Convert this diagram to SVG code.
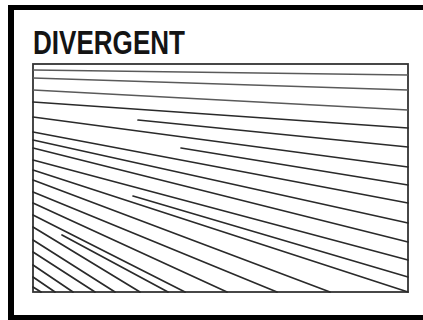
<svg xmlns="http://www.w3.org/2000/svg" width="423" height="320" viewBox="0 0 423 320">
  <style>
    .frame { fill: #000; }
    .title { font-family: "Liberation Sans", Arial, sans-serif; font-weight: bold; font-size: 33px; fill: #141414; }
    .box { fill: none; stroke: #333; stroke-width: 1.8; }
    .ln { stroke: #2a2a2a; stroke-width: 1.7; fill: none; stroke-linecap: round; }
    .lt { stroke: #5a5a5a; stroke-width: 1.5; fill: none; }
  </style>
  <rect width="423" height="320" fill="#fff"/>
  <g id="frame">
    <path class="frame" fill-rule="evenodd" d="M8 5 H430 V330 H8 Z M14 10 V315 H430 V10 Z"/>
  </g>
  <g id="title">
    <text class="title" x="33" y="54" textLength="152" lengthAdjust="spacingAndGlyphs">DIVERGENT</text>
  </g>
  <g id="panel">
    <rect class="box" x="33" y="64" width="375" height="228"/>
  </g>
  <g id="grain-lines">
    <line class="lt" x1="33" y1="70" x2="408" y2="75"/>
    <line class="lt" x1="33" y1="78" x2="408" y2="90"/>
    <line class="lt" x1="33" y1="90" x2="408" y2="110"/>
    <line class="ln" x1="33" y1="102" x2="408" y2="128"/>
    <line class="ln" x1="138" y1="120" x2="408" y2="147"/>
    <line class="ln" x1="33" y1="117" x2="408" y2="167"/>
    <line class="ln" x1="181" y1="148" x2="408" y2="185"/>
    <line class="ln" x1="33" y1="132" x2="408" y2="203"/>
    <line class="ln" x1="33" y1="140" x2="408" y2="223"/>
    <line class="ln" x1="33" y1="148" x2="408" y2="242"/>
    <line class="ln" x1="33" y1="160" x2="408" y2="260"/>
    <line class="ln" x1="133" y1="196" x2="408" y2="277"/>
    <line class="ln" x1="33" y1="170" x2="408" y2="292"/>
    <line class="ln" x1="33" y1="180" x2="330" y2="292"/>
    <line class="ln" x1="33" y1="192" x2="277" y2="292"/>
    <line class="ln" x1="33" y1="203" x2="227" y2="292"/>
    <line class="ln" x1="33" y1="215" x2="185" y2="292"/>
    <line class="ln" x1="62" y1="235" x2="168" y2="292"/>
    <line class="ln" x1="33" y1="227" x2="140" y2="292"/>
    <line class="ln" x1="33" y1="240" x2="115" y2="292"/>
    <line class="ln" x1="33" y1="252" x2="95" y2="292"/>
    <line class="ln" x1="33" y1="265" x2="73" y2="292"/>
    <line class="ln" x1="33" y1="277" x2="55" y2="292"/>
    <line class="ln" x1="33" y1="287" x2="41" y2="292"/>
  </g>
</svg>
